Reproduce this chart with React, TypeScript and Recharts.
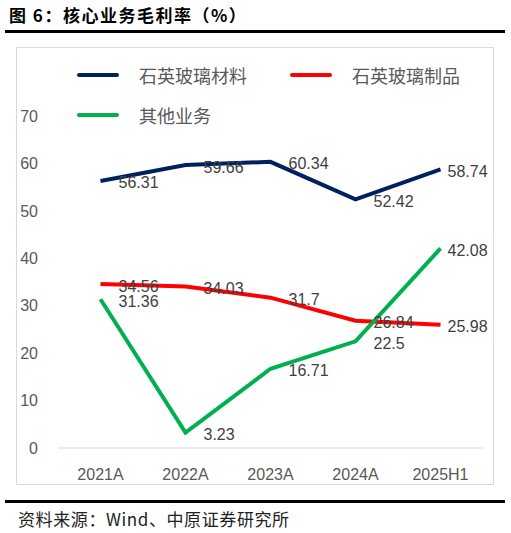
import React from 'react';
import { LineChart, Line, XAxis, YAxis, LabelList } from 'recharts';

const years = ['2021A', '2022A', '2023A', '2024A', '2025H1'];
const quartzMaterial = [56.31, 59.66, 60.34, 52.42, 58.74];
const quartzProducts = [34.56, 34.03, 31.7, 26.84, 25.98];
const otherBusiness = [31.36, 3.23, 16.71, 22.5, 42.08];
const yTicks = [0, 10, 20, 30, 40, 50, 60, 70];

const series = [
  { key: 'material', name: '石英玻璃材料', color: '#002060', values: quartzMaterial },
  { key: 'products', name: '石英玻璃制品', color: '#FF0000', values: quartzProducts },
  { key: 'other', name: '其他业务', color: '#00B050', values: otherBusiness }
];

const data = years.map((year, i) => ({
  year,
  material: quartzMaterial[i],
  products: quartzProducts[i],
  other: otherBusiness[i]
}));

const FONT = '"Liberation Sans", Arial, sans-serif';
const CJK = '"Noto Sans CJK SC", sans-serif';

const renderLabel = (props: any) => {
  const { x, y, value, index } = props;
  const dx = index === years.length - 1 ? 7 : 18;
  return (
    <text
      x={x + dx}
      y={y + 2}
      fill="#404040"
      fontSize={16}
      fontFamily={FONT}
      textAnchor="start"
      dominantBaseline="central"
    >
      {value}
    </text>
  );
};

const App: React.FC = () => {
  return (
    <div style={{ position: 'absolute', left: 0, top: 0, width: 511, height: 533, background: '#fff' }}>
      <div
        style={{
          position: 'absolute',
          left: 9,
          top: 3,
          fontFamily: CJK,
          fontWeight: 700,
          fontSize: 17,
          letterSpacing: 1.5,
          lineHeight: '24px',
          color: '#000',
          whiteSpace: 'nowrap'
        }}
      >
        图 6：核心业务毛利率（%）
      </div>
      <div style={{ position: 'absolute', left: 5, top: 30, width: 500, height: 2.5, background: '#000' }} />

      <div
        style={{
          position: 'absolute',
          left: 16,
          top: 47,
          width: 478,
          height: 438,
          boxSizing: 'border-box',
          border: '1px solid #D9D9D9'
        }}
      />

      {/* legend */}
      {series.map((s, i) => {
        const left = i === 1 ? 290 : 77;
        const top = i === 2 ? 115 : 75;
        return (
          <div key={s.key} style={{ position: 'absolute', left, top: top - 12, height: 24, display: 'flex', alignItems: 'center' }}>
            <div style={{ width: 42, height: 4, borderRadius: 2, background: s.color }} />
            <span style={{ marginLeft: 20, fontFamily: CJK, fontSize: 18, color: '#595959', whiteSpace: 'nowrap' }}>
              {s.name}
            </span>
          </div>
        );
      })}

      <div style={{ position: 'absolute', left: 16, top: 47 }}>
        <LineChart width={478} height={438} data={data} margin={{ top: 69, right: 11, left: 0, bottom: 0 }}>
          <XAxis
            dataKey="year"
            height={37}
            padding={{ left: 42.5, right: 42.5 }}
            axisLine={{ stroke: '#D9D9D9', strokeWidth: 1 }}
            tickLine={false}
            tickMargin={15}
            tick={{ fill: '#595959', fontSize: 16, fontFamily: FONT }}
            interval={0}
          />
          <YAxis
            width={42}
            domain={[0, 70]}
            ticks={yTicks}
            axisLine={false}
            tickLine={false}
            tickMargin={14}
            tick={{ fill: '#595959', fontSize: 16, fontFamily: FONT }}
          />
          {series.map((s) => (
            <Line
              key={s.key}
              type="linear"
              dataKey={s.key}
              name={s.name}
              stroke={s.color}
              strokeWidth={4}
              dot={false}
              activeDot={false}
              isAnimationActive={false}
            >
              <LabelList dataKey={s.key} content={renderLabel} />
            </Line>
          ))}
        </LineChart>
      </div>

      <div style={{ position: 'absolute', left: 5, top: 500, width: 500, height: 3, background: '#000' }} />
      <div
        style={{
          position: 'absolute',
          left: 18,
          top: 507,
          fontFamily: CJK,
          fontSize: 17,
          letterSpacing: 0.6,
          lineHeight: '24px',
          color: '#222',
          whiteSpace: 'nowrap'
        }}
      >
        资料来源：Wind、中原证券研究所
      </div>
    </div>
  );
};

export default App;
